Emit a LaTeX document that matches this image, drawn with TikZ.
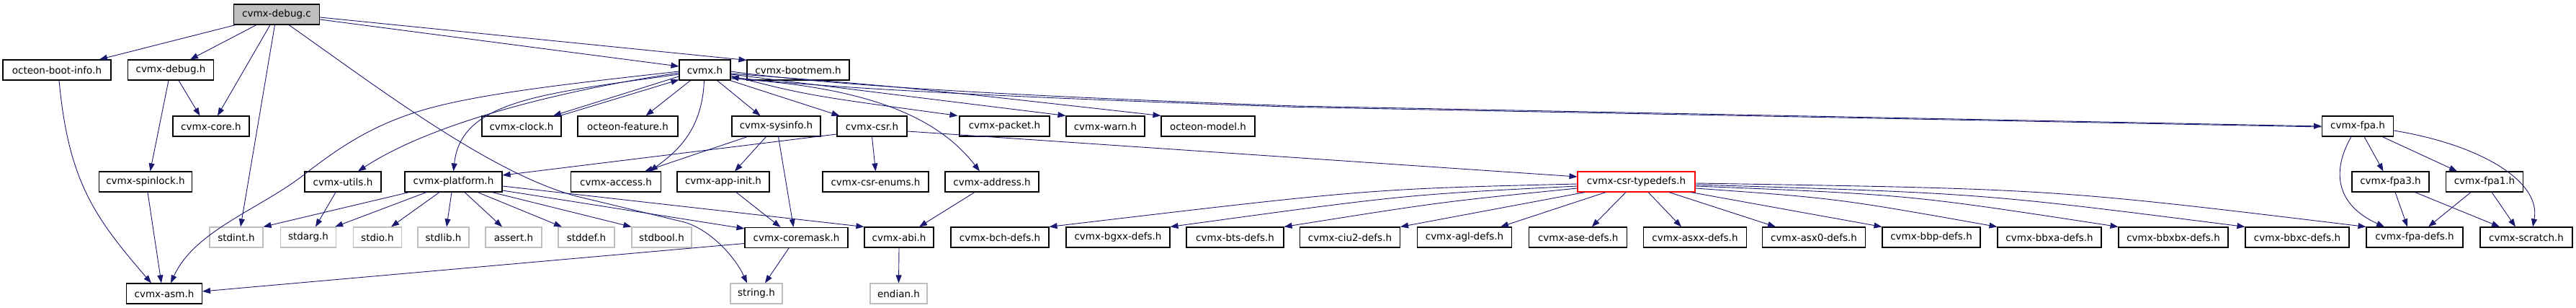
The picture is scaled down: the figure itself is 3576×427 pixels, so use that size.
\documentclass[tikz,border=0pt]{standalone}
\usepackage{fontspec}
\setmainfont{DejaVu Sans}
\usetikzlibrary{arrows.meta}
\definecolor{edgecol}{HTML}{191970}
\definecolor{sysgray}{HTML}{BFBFBF}
\tikzset{
  nd/.style={draw=black, line width=1.1pt, fill=white, minimum height=28pt, inner sep=0pt, font=\fontsize{13.5}{16}\selectfont},
  sys/.style={nd, draw=sysgray},
  trunc/.style={nd, draw=red},
  root/.style={nd, fill=sysgray},
  edg/.style={draw=edgecol, line width=0.9pt, -{Triangle[length=11pt,width=8pt]}, fill=none}
}
\begin{document}
\begin{tikzpicture}[x=1pt,y=-1pt]
\useasboundingbox (0,0) rectangle (3576,427);
% row 0
\node[root, minimum width=119pt] (dbgc) at (384,20) {cvmx-debug.c};
% row 1
\node[nd, minimum width=150pt] (bootinfo) at (79,97) {octeon-boot-info.h};
\node[nd, minimum width=119pt] (dbgh) at (237,97) {cvmx-debug.h};
\node[nd, minimum width=71pt] (cvmx) at (978.5,97) {cvmx.h};
\node[nd, minimum width=142pt] (bootmem) at (1108,97) {cvmx-bootmem.h};
% row 2
\node[nd, minimum width=106pt] (core) at (293,175) {cvmx-core.h};
\node[nd, minimum width=110pt] (clock) at (724,175) {cvmx-clock.h};
\node[nd, minimum width=139pt] (feature) at (871.5,175) {octeon-feature.h};
\node[nd, minimum width=123pt] (sysinfo) at (1077.5,175) {cvmx-sysinfo.h};
\node[nd, minimum width=97pt] (csr) at (1210.5,175) {cvmx-csr.h};
\node[nd, minimum width=125pt] (packet) at (1394.5,175) {cvmx-packet.h};
\node[nd, minimum width=109pt] (warn) at (1534.5,175) {cvmx-warn.h};
\node[nd, minimum width=130pt] (model) at (1677,175) {octeon-model.h};
\node[nd, minimum width=99pt] (fpa) at (3273,175) {cvmx-fpa.h};
% row 3
\node[nd, minimum width=129pt] (spinlock) at (202,252) {cvmx-spinlock.h};
\node[nd, minimum width=106pt] (utils) at (476,252) {cvmx-utils.h};
\node[nd, minimum width=135pt] (platform) at (629.5,252) {cvmx-platform.h};
\node[nd, minimum width=125pt] (access) at (855,252) {cvmx-access.h};
\node[nd, minimum width=128pt] (appinit) at (1004,252) {cvmx-app-init.h};
\node[nd, minimum width=147pt] (enums) at (1215.5,252) {cvmx-csr-enums.h};
\node[nd, minimum width=130pt] (address) at (1377,252) {cvmx-address.h};
\node[trunc, minimum width=163pt] (typedefs) at (2271.5,252) {cvmx-csr-typedefs.h};
\node[nd, minimum width=107pt] (fpa3) at (3318.5,252) {cvmx-fpa3.h};
\node[nd, minimum width=107pt] (fpa1) at (3449,252) {cvmx-fpa1.h};
% row 4
\node[sys, minimum width=74pt] (stdint) at (328,329) {stdint.h};
\node[sys, minimum width=77pt] (stdarg) at (428,329) {stdarg.h};
\node[sys, minimum width=67pt] (stdio) at (524,329) {stdio.h};
\node[sys, minimum width=71pt] (stdlib) at (615.5,329) {stdlib.h};
\node[sys, minimum width=78pt] (assert) at (713,329) {assert.h};
\node[sys, minimum width=78pt] (stddef) at (814,329) {stddef.h};
\node[sys, minimum width=83pt] (stdbool) at (918.5,329) {stdbool.h};
\node[nd, minimum width=143pt] (coremask) at (1105.5,329.5) {cvmx-coremask.h};
\node[nd, minimum width=96pt] (abi) at (1248,329) {cvmx-abi.h};
\node[nd, minimum width=136pt] (bch) at (1388,329) {cvmx-bch-defs.h};
\node[nd, minimum width=144pt] (bgxx) at (1552,329) {cvmx-bgxx-defs.h};
\node[nd, minimum width=135pt] (bts) at (1714.5,329) {cvmx-bts-defs.h};
\node[nd, minimum width=139pt] (ciu2) at (1874,329) {cvmx-ciu2-defs.h};
\node[nd, minimum width=131pt] (agl) at (2033,329) {cvmx-agl-defs.h};
\node[nd, minimum width=136pt] (ase) at (2190.7,329) {cvmx-ase-defs.h};
\node[nd, minimum width=143pt] (asxx) at (2353,329) {cvmx-asxx-defs.h};
\node[nd, minimum width=143pt] (asx0) at (2518,329) {cvmx-asx0-defs.h};
\node[nd, minimum width=136pt] (bbp) at (2681,329) {cvmx-bbp-defs.h};
\node[nd, minimum width=144pt] (bbxa) at (2845,329) {cvmx-bbxa-defs.h};
\node[nd, minimum width=152pt] (bbxbx) at (3017,329) {cvmx-bbxbx-defs.h};
\node[nd, minimum width=144pt] (bbxc) at (3189,329) {cvmx-bbxc-defs.h};
\node[nd, minimum width=134pt] (fpadefs) at (3352,329) {cvmx-fpa-defs.h};
\node[nd, minimum width=128pt] (scratch) at (3507,329) {cvmx-scratch.h};
% row 5
\node[nd, minimum width=105pt] (asm) at (228,407) {cvmx-asm.h};
\node[sys, minimum width=72pt] (string) at (1050,407) {string.h};
\node[sys, minimum width=79pt] (endian) at (1247.5,407) {endian.h};

% cvmx-debug.c
\draw[edg] ([xshift=-57pt]dbgc.south) -- ([xshift=59pt]bootinfo.north);
\draw[edg] ([xshift=-28pt]dbgc.south) -- ([xshift=27pt]dbgh.north);
\draw[edg] ([xshift=-9pt]dbgc.south) -- ([xshift=9pt]core.north);
\draw[edg] ([xshift=-2.5pt]dbgc.south) -- ([xshift=6pt]stdint.north);
\draw[edg] ([xshift=17pt]dbgc.south) .. controls (520,118) and (680,240) .. (800,272) -- (950,308) .. controls (985,318) and (1020,355) .. ([xshift=-13pt]string.north);
\draw[edg] ([yshift=-7pt]dbgc.east) -- ([yshift=5pt]cvmx.west);
\draw[edg] ([yshift=-4pt]dbgc.east) -- ([yshift=-1pt]bootmem.north west);

% cvmx.h
\draw[edg] ([yshift=-2pt]cvmx.west) .. controls (800,115) and (680,128) .. (600,149) .. controls (520,170) and (470,205) .. (421,243) .. controls (360,290) and (270,320) .. ([xshift=9pt]asm.north);
\draw[edg] ([yshift=-4pt]cvmx.west) .. controls (780,125) and (600,170) .. ([xshift=21pt]utils.north);
\draw[edg] ([yshift=-6pt]cvmx.west) .. controls (750,130) and (640,140) .. (platform.north);
\draw[edg] ([yshift=-9pt]cvmx.west) -- ([xshift=44pt]clock.north);
\draw[edg] ([xshift=-2pt]clock.north east) -- ([yshift=1pt]cvmx.south west);
\draw[edg] ([xshift=-20pt]cvmx.south) -- ([xshift=25pt]feature.north);
\draw[edg] ([xshift=-1pt]cvmx.south) .. controls (975,180) and (940,210) .. ([xshift=47pt]access.north);
\draw[edg] ([xshift=17pt]cvmx.south) -- ([xshift=-22pt]sysinfo.north);
\draw[edg] ([xshift=-1pt]cvmx.south east) -- ([xshift=4pt]csr.north west);
\draw[edg] ([yshift=-8pt]cvmx.east) .. controls (1120,132) .. ([xshift=-2pt]packet.north west);
\draw[edg] ([yshift=-6pt]cvmx.east) .. controls (1200,126) .. (warn.north west);
\draw[edg] ([yshift=-5pt]cvmx.east) .. controls (1250,120) .. (model.north west);
\draw[edg] ([yshift=-12pt]cvmx.east) .. controls (1200,120) and (1300,160) .. ([xshift=-17pt]address.north);
\draw[edg] ([yshift=-2pt]cvmx.east) .. controls (1150,118) and (1400,133) .. (1800,147) -- ([yshift=0pt]fpa.west);
\draw[edg] ([yshift=-1pt]fpa.west) -- (1800,148.5) .. controls (1400,135) and (1150,122) .. ([yshift=-10pt]cvmx.east);

% cvmx-csr.h
\draw[edg] ([yshift=-11pt]csr.west) -- ([yshift=9pt]platform.east);
\draw[edg] (csr.south) -- (enums.north);
\draw[edg] ([yshift=-7pt]csr.east) -- ([yshift=7pt]typedefs.west);

% cvmx-sysinfo.h
\draw[edg] ([xshift=-40pt]sysinfo.south) -- ([xshift=40pt]access.north);
\draw[edg] ([xshift=-14pt]sysinfo.south) -- ([xshift=16pt]appinit.north);
\draw[edg] ([xshift=3pt]sysinfo.south) -- ([xshift=-4pt]coremask.north);
\draw[edg] ([xshift=18pt]appinit.south) -- ([xshift=-22pt]coremask.north);

% cvmx-platform.h
\draw[edg] ([xshift=-61.5pt]platform.south) -- (stdint.north east);
\draw[edg] ([xshift=-37.5pt]platform.south) -- ([xshift=-2pt]stdarg.north east);
\draw[edg] ([xshift=-19.5pt]platform.south) -- ([xshift=19pt]stdio.north);
\draw[edg] ([xshift=-2.5pt]platform.south) -- ([xshift=4.5pt]stdlib.north);
\draw[edg] ([xshift=15.5pt]platform.south) -- ([xshift=-16pt]assert.north);
\draw[edg] ([xshift=33.5pt]platform.south) -- ([xshift=-34pt]stddef.north);
\draw[edg] ([xshift=53.5pt]platform.south) -- (stdbool.north west);
\draw[edg] ([yshift=-12pt]platform.east) -- ([yshift=-2pt]coremask.north west);
\draw[edg] ([yshift=-6pt]platform.east) -- (abi.north west);

% left part
\draw[edg] ([xshift=-3pt]dbgh.south) -- ([xshift=6.5pt]spinlock.north);
\draw[edg] ([xshift=11pt]dbgh.south) -- ([xshift=-15.5pt]core.north);
\draw[edg] ([xshift=3pt]bootinfo.south) .. controls (95,250) and (130,300) .. ([xshift=-18pt]asm.north);
\draw[edg] ([xshift=3pt]spinlock.south) -- ([xshift=-4pt]asm.north);
\draw[edg] ([xshift=-10pt]utils.south) -- ([xshift=10pt]stdarg.north);
\draw[edg] ([yshift=-8pt]coremask.west) -- ([yshift=3pt]asm.east);
\draw[edg] ([xshift=-10.5pt]coremask.south) -- ([xshift=12pt]string.north);
\draw[edg] ([xshift=-24pt]address.south) -- ([xshift=28pt]abi.north);
\draw[edg] (abi.south) -- (endian.north);

% cvmx-csr-typedefs.h
\draw[edg] ([yshift=-3pt]typedefs.west) .. controls (1900,262) .. (bch.north east);
\draw[edg] ([yshift=-6pt]typedefs.west) .. controls (1950,270) .. (bgxx.north east);
\draw[edg] ([yshift=-9pt]typedefs.west) .. controls (2000,280) .. (bts.north east);
\draw[edg] ([xshift=-71.5pt]typedefs.south) -- (ciu2.north east);
\draw[edg] ([xshift=-42.5pt]typedefs.south) -- ([xshift=50pt]agl.north);
\draw[edg] ([xshift=-14.5pt]typedefs.south) -- ([xshift=19pt]ase.north);
\draw[edg] ([xshift=16.5pt]typedefs.south) -- ([xshift=-19pt]asxx.north);
\draw[edg] ([xshift=45.5pt]typedefs.south) -- ([xshift=-53pt]asx0.north);
\draw[edg] ([xshift=75.5pt]typedefs.south) -- (bbp.north west);
\draw[edg] ([yshift=-9pt]typedefs.east) .. controls (2550,275) .. (bbxa.north west);
\draw[edg] ([yshift=-6pt]typedefs.east) .. controls (2650,270) .. (bbxbx.north west);
\draw[edg] ([yshift=-4pt]typedefs.east) .. controls (2750,268) .. (bbxc.north west);
\draw[edg] ([yshift=-2pt]typedefs.east) .. controls (2850,262) .. (fpadefs.north west);

% cvmx-fpa.h
\draw[edg] ([xshift=-9pt]fpa.south) .. controls (3235,240) and (3245,285) .. ([xshift=-42pt]fpadefs.north);
\draw[edg] ([xshift=9pt]fpa.south) -- ([xshift=-10pt]fpa3.north);
\draw[edg] ([xshift=34pt]fpa.south) -- ([xshift=-38pt]fpa1.north);
\draw[edg] ([yshift=-6pt]fpa.east) .. controls (3440,200) and (3528,250) .. ([xshift=9pt]scratch.north);
\draw[edg] ([xshift=6.5pt]fpa3.south) -- ([xshift=-10pt]fpadefs.north);
\draw[edg] ([xshift=34pt]fpa3.south) -- ([xshift=-37pt]scratch.north);
\draw[edg] ([xshift=-19pt]fpa1.south) -- ([xshift=19pt]fpadefs.north);
\draw[edg] ([xshift=10pt]fpa1.south) -- ([xshift=-15pt]scratch.north);
\end{tikzpicture}
\end{document}
